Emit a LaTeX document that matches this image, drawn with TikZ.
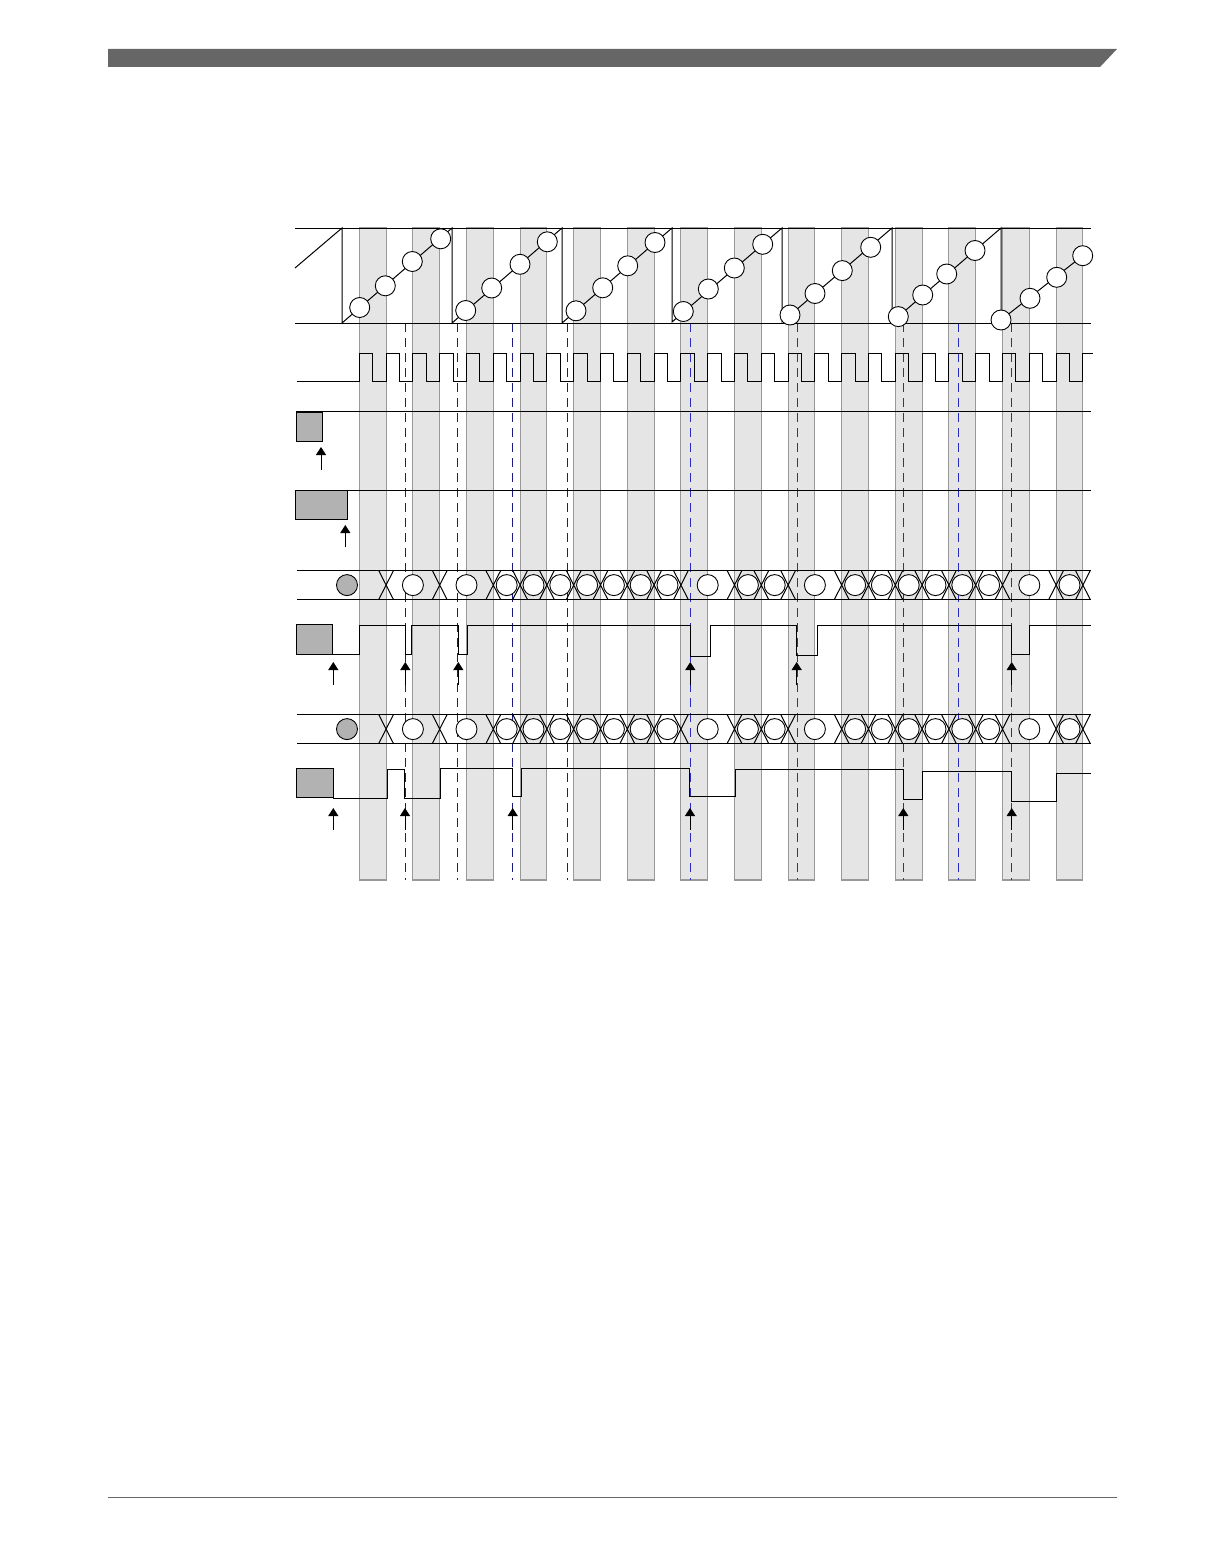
\documentclass[tikz,border=0pt]{standalone}
\usetikzlibrary{arrows.meta}
\definecolor{barcolor}{HTML}{666666}
\colorlet{bandfill}{black!10}
\colorlet{bandline}{black!40}
\colorlet{boxfill}{black!30}
\definecolor{navydash}{HTML}{1A1A80}
\definecolor{bluedash}{HTML}{2A2AC0}

\begin{document}
\begin{tikzpicture}[x=1pt,y=-1pt,line width=1pt,
  band/.style={fill=bandfill,draw=bandline,line width=1.1pt},
  bit/.style={circle,draw,fill=white,minimum size=21pt,inner sep=0pt,line width=0.9pt},
  greybit/.style={bit,fill=boxfill},
  greybox/.style={draw,fill=boxfill,anchor=north west,inner sep=0pt,line width=0.9pt},
  uparrow/.style={-{Triangle[length=8pt,width=10pt]},line width=1pt},
  sync/.style={dash pattern=on 9pt off 6pt,line width=0.9pt}]

\useasboundingbox (0,0) rectangle (1224,1555);
\fill[barcolor] (108,49) -- (1117,49) -- (1100,67) -- (108,67) -- cycle;
\draw[barcolor,line width=0.8pt] (108,1497) -- (1117,1497);

\foreach \i in {0,...,13}
  \draw[band] ({359.3+53.6*\i},228) rectangle ++(26.8,652);

\foreach \x in {405.3,457.3,512.3,567.3}
  \draw[sync,navydash] (\x,323) -- (\x,880);
\foreach \x in {690.7,797.3,903.3,958.7,1011.7}
  \draw[sync,bluedash] (\x,323) -- (\x,880);

% counter ramp
\draw (295,228) -- (1091,228);
\draw (295,323) -- (1091,323);
\draw (295,268) -- (342,228) -- (342,323) -- (452,228) -- (452,323) -- (562,228) -- (562,323)
  -- (672,228) -- (672,322) -- (782,228) -- (782,322) -- (892,228) -- (892,322) -- (1001,228)
  -- (1001,320) -- (1082.7,255.7);
\foreach \x/\y [count=\i] in {359.7/307.5,385.3/285.8,412.3/261.5,440.7/238.8,
    465.7/310.5,491.7/288,520/264.3,547.3/241.8,
    576/310.8,602.7/287.8,627.7/265.8,655/242.5,
    683.3/311.5,708.3/289,734.3/268,762.7/244.3,
    790/315,815/293.5,842.3/270.6,870.7/247.3,
    898.3/316.6,922.7/295,946.7/274,975/250.5,
    1001/320,1030/298.3,1056.7/277.3,1082.7/255.7}
  \node[bit,minimum size=20pt] (r\i) at (\x,\y) {};

% clock
\draw (297,381.7) foreach \k in {0,...,26} { -- ({359.3+26.8*\k},381.7) -- ++(0,-28.4) -- ++(13.4,0) -- ++(0,28.4) }
  -- (1082.9,381.7) -- ++(0,-28.4) -- (1093,353.3);

\draw (296.3,411.5) -- (1091,411.5);
\node[greybox,minimum width=25.4pt,minimum height=29.8pt] (start) at (296.3,411.5) {};
\draw[uparrow] (321,470) -- (321,447);

\draw (295.3,490) -- (1091,490);
\node[greybox,minimum width=51.4pt,minimum height=29pt] (load) at (295.3,490) {};
\draw[uparrow] (345.3,547) -- (345.3,525);

% data buses
\foreach \y/\n in {570.3/a,714.3/b} {
  \draw (297,\y) -- (1091,\y) (297,{\y+29.5}) -- (1091,{\y+29.5});
  \foreach \k in {1,3,5,6,7,8,9,10,11,12,14,15,16,18,19,20,21,22,23,24,26,27}
    \draw ({359.3+26.8*\k-7.5},\y) -- ++(15,29.5) ({359.3+26.8*\k-7.5},{\y+29.5}) -- ++(15,-29.5);
  \node[greybit] (\n0) at (347,{\y+14.8}) {};
  \foreach \a/\b [count=\i] in {1/3,3/5,5/6,6/7,7/8,8/9,9/10,10/11,11/12,12/14,14/15,15/16,
      16/18,18/19,19/20,20/21,21/22,22/23,23/24,24/26,26/27}
    \node[bit] (\n\i) at ({359.3+13.4*(\a+\b)},{\y+14.8}) {};
}

\node[greybox,minimum width=36pt,minimum height=30pt] (flag) at (296.3,624.3) {};
\draw (332.3,654.3) -- (359.3,654.3) -- (359.3,625) -- (405.3,625) -- (405.3,654.3) -- (411.7,654.3)
  -- (411.7,625) -- (458.3,625) -- (458.3,654.3) -- (467.3,654.3) -- (467.3,625) -- (690.7,625)
  -- (690.7,656) -- (710.7,656) -- (710.7,625) -- (796.7,625) -- (796.7,655) -- (817.3,655)
  -- (817.3,625) -- (1011.7,625) -- (1011.7,654) -- (1029.3,654) -- (1029.3,625) -- (1091,625);
\foreach \x in {333.3,405.3,458.3,690.3,796.7,1011.7}
  \draw[uparrow] (\x,685) -- (\x,662);

\node[greybox,minimum width=37pt,minimum height=29.6pt] (out) at (296.3,767.7) {};
\draw (333.3,798) -- (387.3,798) -- (387.3,769) -- (404.3,769) -- (404.3,798) -- (440.7,798)
  -- (440.7,768.5) -- (512.3,768.5) -- (512.3,796.5) -- (521,796.5) -- (521,768.5) -- (689.3,768.5)
  -- (689.3,796.5) -- (735,796.5) -- (735,769) -- (903.3,769) -- (903.3,799) -- (922.3,799)
  -- (922.3,771) -- (1011.7,771) -- (1011.7,801.7) -- (1056.7,801.7) -- (1056.7,773.3) -- (1091,773.3);
\foreach \x in {333.3,405,512.7,690,903.3,1011.7}
  \draw[uparrow] (\x,830) -- (\x,808);

\end{tikzpicture}
\end{document}
